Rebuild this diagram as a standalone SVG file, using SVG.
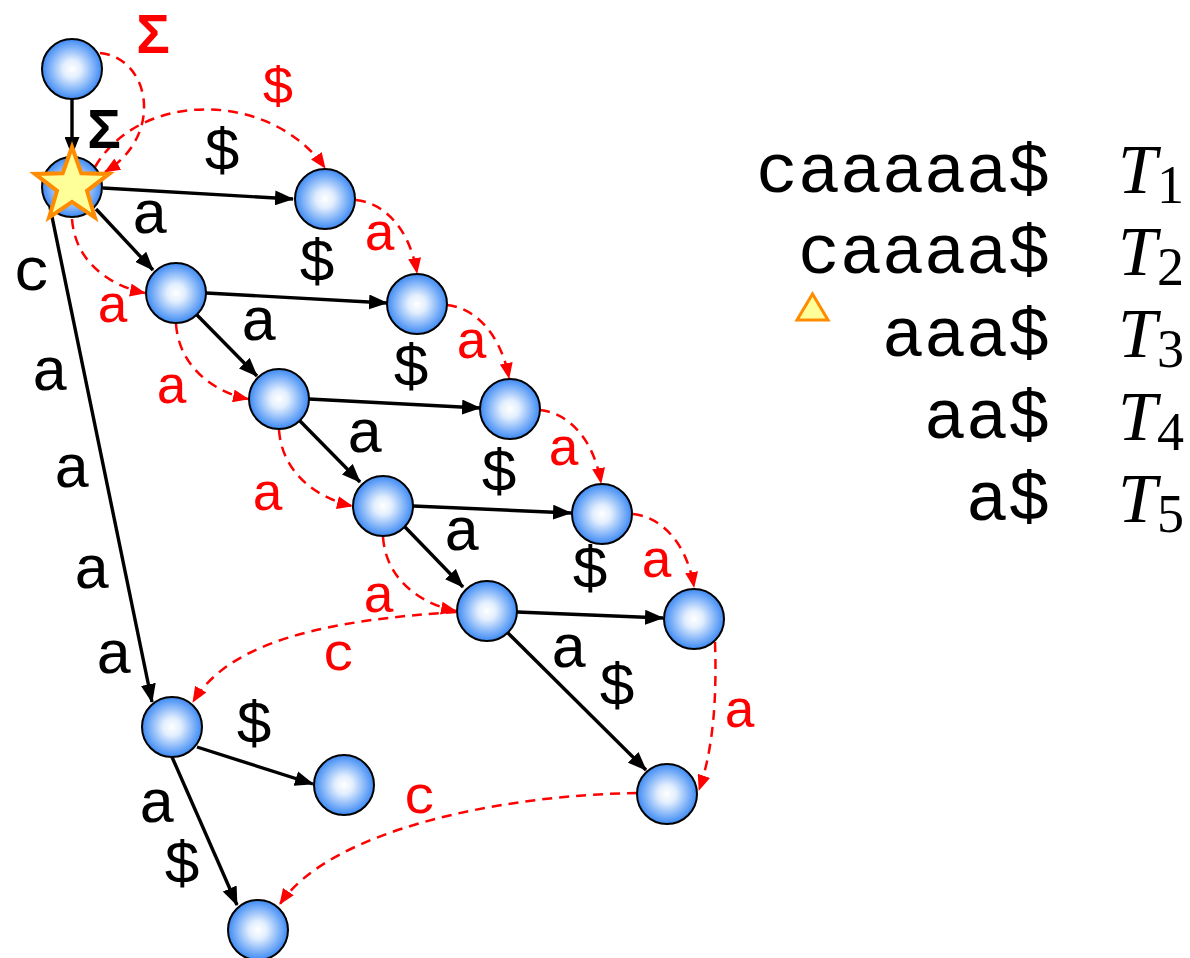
<svg xmlns="http://www.w3.org/2000/svg" width="1190" height="958" viewBox="0 0 1190 958">
  <defs>
    <radialGradient id="ball" cx="50%" cy="50%" r="50%">
      <stop offset="0%" stop-color="#ffffff"/>
      <stop offset="30%" stop-color="#e2eefe"/>
      <stop offset="100%" stop-color="#3d8af4"/>
    </radialGradient>
    <marker id="arrowBlack" viewBox="0 0 19 15" refX="18" refY="7.5" markerWidth="19" markerHeight="15" markerUnits="userSpaceOnUse" orient="auto">
      <path d="M0,0 L19,7.5 L0,15 z" fill="#000"/>
    </marker>
    <marker id="arrowRed" viewBox="0 0 16 13" refX="15" refY="6.5" markerWidth="16" markerHeight="13" markerUnits="userSpaceOnUse" orient="auto">
      <path d="M0,0 L16,6.5 L0,13 z" fill="#ff0000"/>
    </marker>
    <style>
      .node { fill: url(#ball); stroke: #000; stroke-width: 2; }
      .edge { fill: none; stroke: #000; stroke-width: 3.4; marker-end: url(#arrowBlack); }
      .link { fill: none; stroke: #ff0000; stroke-width: 2.5; stroke-dasharray: 10 7; marker-end: url(#arrowRed); }
      .lbl { font-family: "Liberation Mono", "Courier New", monospace; font-size: 62px; fill: #000; text-anchor: middle; }
      .rlbl { font-family: "Liberation Mono", "Courier New", monospace; font-size: 54px; fill: #ff0000; text-anchor: middle; }
      .sigma { font-family: "Liberation Sans", Arial, sans-serif; font-weight: bold; font-size: 56px; text-anchor: middle; }
      .str { font-family: "Liberation Mono", "Courier New", monospace; font-size: 70px; fill: #000; text-anchor: end; }
      .tname { font-family: "Liberation Serif", "Times New Roman", serif; font-style: italic; font-size: 70px; fill: #000; }
      .tsub { font-family: "Liberation Serif", "Times New Roman", serif; font-style: normal; font-size: 54px; fill: #000; }
    </style>
  </defs>
  <rect width="1190" height="958" fill="#ffffff"/>

  <g id="connectors">
    <!-- tree edges -->
    <line class="edge" x1="72" y1="99" x2="72" y2="155"/>
    <line class="edge" x1="103" y1="188" x2="293" y2="199"/>
    <line class="edge" x1="96" y1="209" x2="153" y2="270"/>
    <line class="edge" x1="50" y1="207" x2="152" y2="702"/>
    <line class="edge" x1="206" y1="293" x2="387" y2="303"/>
    <line class="edge" x1="197" y1="315" x2="257" y2="376"/>
    <line class="edge" x1="309" y1="399" x2="480" y2="408"/>
    <line class="edge" x1="300" y1="421" x2="360" y2="482"/>
    <line class="edge" x1="413" y1="506" x2="571" y2="513"/>
    <line class="edge" x1="405" y1="527" x2="463" y2="587"/>
    <line class="edge" x1="517" y1="612" x2="663" y2="618"/>
    <line class="edge" x1="508" y1="633" x2="646" y2="770"/>
    <line class="edge" x1="197" y1="747" x2="313" y2="784"/>
    <line class="edge" x1="172" y1="757" x2="237" y2="905"/>

    <!-- failure / suffix links -->
    <path class="link" d="M100,53 C150,58 165,135 105,172"/>
    <path class="link" d="M95,167 C140,90 270,90 325,168"/>
    <path class="link" d="M72,219 C75,262 110,286 145,293"/>
    <path class="link" d="M176,324 C179,367 214,392 248,399"/>
    <path class="link" d="M279,430 C282,473 317,498 352,506"/>
    <path class="link" d="M383,537 C386,580 421,604 456,611"/>
    <path class="link" d="M356,200 C385,203 410,230 417,273"/>
    <path class="link" d="M447,305 C476,308 501,335 509,378"/>
    <path class="link" d="M540,410 C569,413 594,440 601,483"/>
    <path class="link" d="M633,514 C662,517 687,544 694,587"/>
    <path class="link" d="M715,642 C717,700 713,750 699,790"/>
    <path class="link" d="M456,612 C330,620 230,640 193,702"/>
    <path class="link" d="M637,793 C500,795 330,830 280,904"/>

    <!-- edge labels -->
    <text class="sigma" x="104" y="148" fill="#000">Σ</text>
    <text class="lbl" x="222" y="170">$</text>
    <text class="lbl" x="150" y="233">a</text>
    <text class="lbl" x="32" y="290">c</text>
    <text class="lbl" x="50" y="390">a</text>
    <text class="lbl" x="72" y="487">a</text>
    <text class="lbl" x="92" y="588">a</text>
    <text class="lbl" x="114" y="673">a</text>
    <text class="lbl" x="317" y="281">$</text>
    <text class="lbl" x="259" y="340">a</text>
    <text class="lbl" x="411" y="386">$</text>
    <text class="lbl" x="365" y="452">a</text>
    <text class="lbl" x="499" y="491">$</text>
    <text class="lbl" x="462" y="550">a</text>
    <text class="lbl" x="590" y="588">$</text>
    <text class="lbl" x="569" y="667">a</text>
    <text class="lbl" x="617" y="705">$</text>
    <text class="lbl" x="254" y="743">$</text>
    <text class="lbl" x="157" y="822">a</text>
    <text class="lbl" x="182" y="883">$</text>

    <text class="sigma" x="153" y="53" fill="#ff0000">Σ</text>
    <text class="rlbl" x="278" y="104">$</text>
    <text class="rlbl" x="380" y="250">a</text>
    <text class="rlbl" x="113" y="322">a</text>
    <text class="rlbl" x="172" y="403">a</text>
    <text class="rlbl" x="472" y="358">a</text>
    <text class="rlbl" x="268" y="510">a</text>
    <text class="rlbl" x="564" y="465">a</text>
    <text class="rlbl" x="379" y="612">a</text>
    <text class="rlbl" x="657" y="577">a</text>
    <text class="rlbl" x="740" y="727">a</text>
    <text class="rlbl" x="339" y="670">c</text>
    <text class="rlbl" x="420" y="813">c</text>
  </g>

  <g id="n0"><circle class="node" cx="72" cy="69" r="30"/></g>
  <g id="n1">
    <circle class="node" cx="72" cy="187" r="30"/>
    <polygon points="72,147 81.3,173.2 109.1,173.9 87,190.8 94.9,217.5 72,201.8 49.1,217.5 57,190.8 34.9,173.9 62.7,173.2" fill="#ffff99" stroke="#ff8c00" stroke-width="4" stroke-linejoin="miter"/>
  </g>
  <g id="s1"><circle class="node" cx="325" cy="199" r="30"/></g>
  <g id="a1"><circle class="node" cx="176" cy="293" r="30"/></g>
  <g id="b1"><circle class="node" cx="417" cy="304" r="30"/></g>
  <g id="a2"><circle class="node" cx="279" cy="399" r="30"/></g>
  <g id="b2"><circle class="node" cx="510" cy="409" r="30"/></g>
  <g id="a3"><circle class="node" cx="383" cy="506" r="30"/></g>
  <g id="b3"><circle class="node" cx="602" cy="514" r="30"/></g>
  <g id="a4"><circle class="node" cx="487" cy="611" r="30"/></g>
  <g id="b4"><circle class="node" cx="694" cy="619" r="30"/></g>
  <g id="a5"><circle class="node" cx="667" cy="794" r="30"/></g>
  <g id="c1"><circle class="node" cx="172" cy="727" r="30"/></g>
  <g id="cs"><circle class="node" cx="344" cy="785" r="30"/></g>
  <g id="c2"><circle class="node" cx="258" cy="930" r="30"/></g>

  <g id="strings">
    <text class="str" x="1050" y="192">caaaaa$</text>
    <text class="str" x="1050" y="273">caaaa$</text>
    <text class="str" x="1050" y="356">aaa$</text>
    <text class="str" x="1050" y="438">aa$</text>
    <text class="str" x="1050" y="520">a$</text>
    <polygon points="797,320 828,320 812.5,294" fill="#ffff99" stroke="#ff8c00" stroke-width="3"/>
  </g>
  <g id="names">
    <text class="tname" x="1118" y="193">T<tspan class="tsub" dy="10">1</tspan></text>
    <text class="tname" x="1118" y="275">T<tspan class="tsub" dy="10">2</tspan></text>
    <text class="tname" x="1118" y="357">T<tspan class="tsub" dy="10">3</tspan></text>
    <text class="tname" x="1118" y="440">T<tspan class="tsub" dy="10">4</tspan></text>
    <text class="tname" x="1118" y="522">T<tspan class="tsub" dy="10">5</tspan></text>
  </g>
</svg>
